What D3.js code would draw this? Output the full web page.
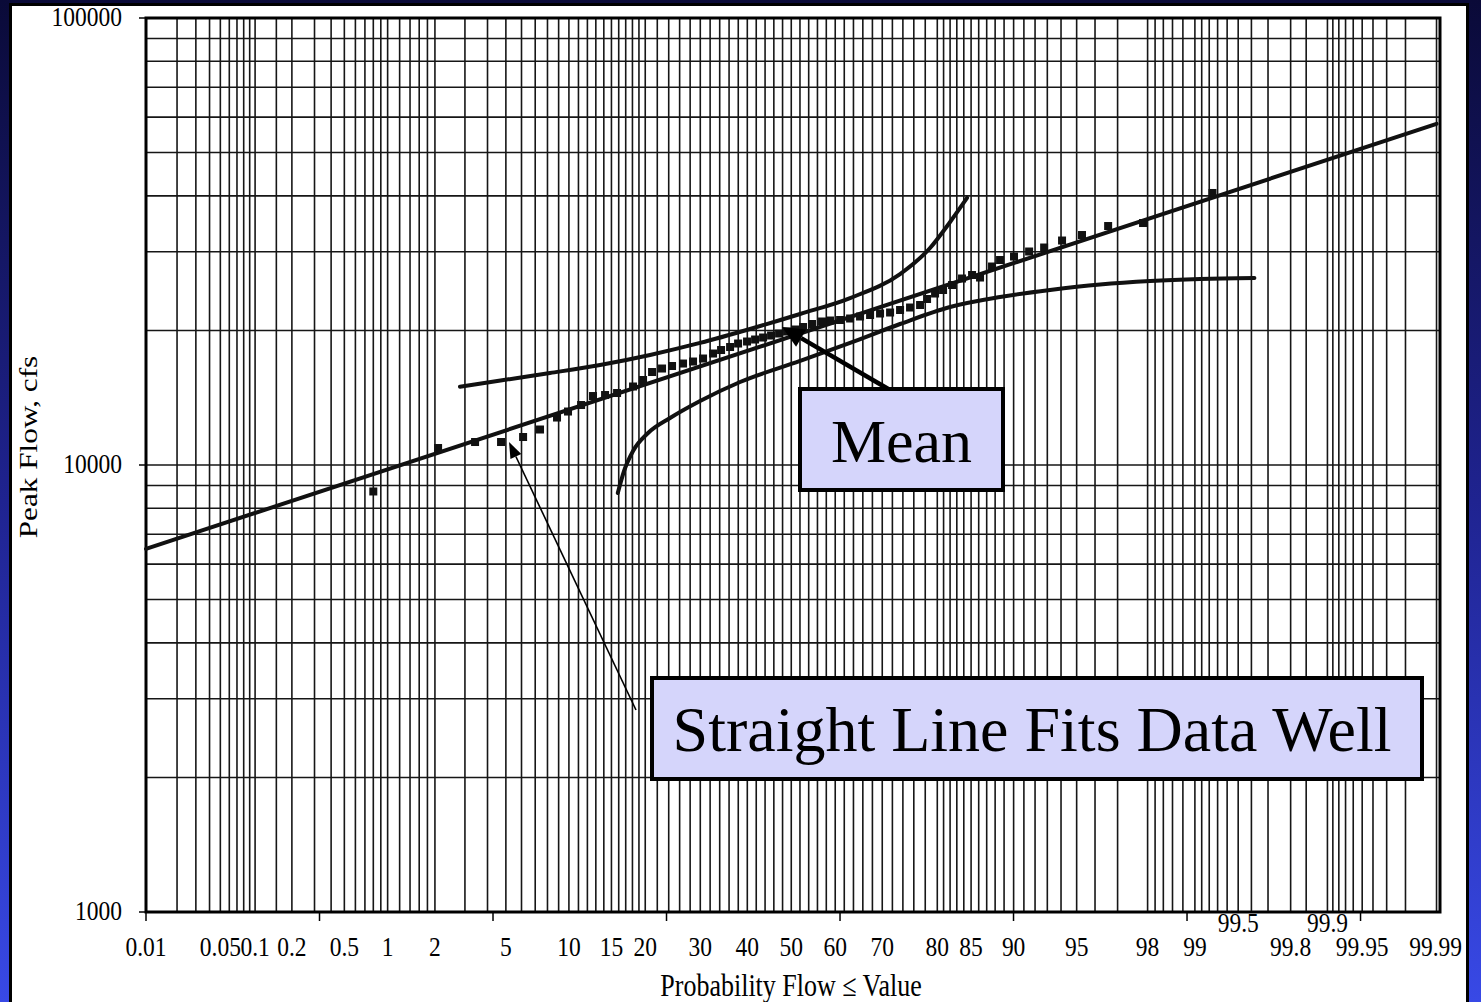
<!DOCTYPE html>
<html>
<head>
<meta charset="utf-8">
<script src="https://cdn.jsdelivr.net/npm/d3@7"></script>
<style>
  html, body { margin: 0; padding: 0; overflow: hidden; background: #0b0b3c; }
  svg { display: block; }
</style>
</head>
<body>
<script>
// ---- Annual peak flows: plotting position (% non-exceedance) and flow (cfs)
const peakProb = [0.80, 2.09, 3.42, 4.72, 6.11, 7.38, 8.85, 9.91, 11.29, 12.66,
  14.16, 15.77, 18.09, 19.65, 21.12, 22.82, 24.60, 26.64, 28.57, 30.56,
  32.61, 34.29, 36.22, 37.96, 39.94, 41.74, 43.55, 45.37, 47.20, 49.03,
  50.87, 52.71, 54.77, 57.04, 58.85, 61.08, 63.27, 65.41, 67.52, 69.56,
  71.55, 73.47, 75.32, 77.11, 78.31, 79.64, 80.92, 82.30, 83.75, 85.13,
  86.17, 87.64, 88.56, 90.04, 91.48, 92.75, 94.07, 95.31, 96.61, 97.87, 99.24];
const peakFlow = [8725, 10914, 11257, 11257, 11551, 12006, 12770, 13171, 13620, 14266,
  14340, 14489, 14983, 15493, 16144, 16438, 16651, 16866, 17041, 17307,
  17758, 18081, 18363, 18697, 18891, 19087, 19284, 19484, 19686, 19890,
  20096, 20356, 20674, 20942, 21050, 21104, 21268, 21488, 21655, 21823,
  21935, 22220, 22507, 22799, 23515, 24191, 24631, 25272, 26134, 26609,
  26268, 27800, 28746, 29269, 30033, 30658, 31783, 32696, 34247, 34781, 40602];

// ---- Fitted log-normal line (end points)
const fitProb = [0.01, 99.99];
const fitFlow = [6490, 57960];

// ---- Confidence limits about the fitted mean
const upperProb = [2.81, 4.69, 8.22, 13.52, 20.79, 29.96, 40.61, 52.02, 63.27, 73.47,
  78.81, 82.00, 84.45];
const upperFlow = [14970, 15452, 16060, 16743, 17630, 18753, 20148, 21770, 23634, 26743,
  30580, 34960, 39570];
const lowerProb = [15.87, 16.76, 18.09, 20.46, 24.24, 29.96, 38.40, 52.02, 63.27, 73.47,
  82.00, 88.56, 93.21, 96.24, 98.07, 99.08, 99.62];
const lowerFlow = [8658, 9696, 10747, 11790, 12737, 13904, 15334, 17089, 18753, 20674,
  22565, 23756, 24631, 25337, 25797, 26065, 26200];

// ---- Probability-paper grid and labels
const gridProbs = [0.01, 0.02, 0.03, 0.04, 0.05, 0.06, 0.07, 0.08, 0.09, 0.1, 0.15, 0.2,
  0.3, 0.4, 0.5, 0.6, 0.7, 0.8, 0.9, 1, 1.2, 1.4, 1.6, 1.8, 2, 3, 4, 5, 6, 7, 8, 9, 10,
  11, 12, 13, 14, 15, 16, 17, 18, 19, 20, 22, 24, 26, 28, 30, 32, 34, 36, 38, 40, 42,
  44, 46, 48, 50, 52, 54, 56, 58, 60, 62, 64, 66, 68, 70, 72, 74, 76, 78, 80, 81, 82,
  83, 84, 85, 86, 87, 88, 89, 90, 91, 92, 93, 94, 95, 96, 97, 98, 98.2, 98.4, 98.6,
  98.8, 99, 99.1, 99.2, 99.3, 99.4, 99.5, 99.6, 99.7, 99.8, 99.85, 99.9, 99.91, 99.92,
  99.93, 99.94, 99.95, 99.96, 99.97, 99.98, 99.99];
const probLabels = ["0.01", "0.05", "0.1", "0.2", "0.5", "1", "2", "5", "10", "15", "20",
  "30", "40", "50", "60", "70", "80", "85", "90", "95", "98", "99", "99.5", "99.8",
  "99.9", "99.95", "99.99"];
const raisedLabels = ["99.5", "99.9"];
const flowGrid = [1000, 2000, 3000, 4000, 5000, 6000, 7000, 8000, 9000,
  10000, 20000, 30000, 40000, 50000, 60000, 70000, 80000, 90000, 100000];
const flowLabels = [1000, 10000, 100000];

// Standard normal quantile (Acklam's rational approximation)
function probit(p) {
  const a = [-3.969683028665376e+01, 2.209460984245205e+02, -2.759285104469687e+02,
    1.383577518672690e+02, -3.066479806614716e+01, 2.506628277459239e+00];
  const b = [-5.447609879822406e+01, 1.615858368580409e+02, -1.556989798598866e+02,
    6.680131188771972e+01, -1.328068155288572e+01];
  const c = [-7.784894002430293e-03, -3.223964580411365e-01, -2.400758277161838e+00,
    -2.549732539343734e+00, 4.374664141464968e+00, 2.938163982698783e+00];
  const d = [7.784695709041462e-03, 3.224671290700398e-01, 2.445134137142996e+00,
    3.754408661907416e+00];
  const pl = 0.02425;
  let q, r;
  if (p < pl) {
    q = Math.sqrt(-2 * Math.log(p));
    return (((((c[0]*q+c[1])*q+c[2])*q+c[3])*q+c[4])*q+c[5]) / ((((d[0]*q+d[1])*q+d[2])*q+d[3])*q+1);
  } else if (p <= 1 - pl) {
    q = p - 0.5; r = q * q;
    return (((((a[0]*r+a[1])*r+a[2])*r+a[3])*r+a[4])*r+a[5])*q / (((((b[0]*r+b[1])*r+b[2])*r+b[3])*r+b[4])*r+1);
  } else {
    q = Math.sqrt(-2 * Math.log(1 - p));
    return -(((((c[0]*q+c[1])*q+c[2])*q+c[3])*q+c[4])*q+c[5]) / ((((d[0]*q+d[1])*q+d[2])*q+d[3])*q+1);
  }
}

const W = 1481, H = 1002;
const plot = { left: 146, right: 1440, top: 18, bottom: 912 };

const zScale = d3.scaleLinear().domain([-3.719, 3.739]).range([plot.left, plot.right]);
const xP = p => zScale(probit(p / 100));
const yQ = d3.scaleLog().domain([1000, 100000]).range([plot.bottom, plot.top]);

const svg = d3.select("body").append("svg").attr("width", W).attr("height", H);
const defs = svg.append("defs");

// slide background
const grad = defs.append("linearGradient").attr("id", "bg")
  .attr("x1", 0).attr("y1", 0).attr("x2", 0).attr("y2", 1);
grad.append("stop").attr("offset", "0%").attr("stop-color", "#0a0a38");
grad.append("stop").attr("offset", "50%").attr("stop-color", "#1f2390");
grad.append("stop").attr("offset", "100%").attr("stop-color", "#3849e6");
svg.append("rect").attr("width", W).attr("height", H).attr("fill", "url(#bg)");

// white chart panel
svg.append("rect").attr("x", 10.5).attr("y", 4.5).attr("width", 1457).attr("height", 1010)
  .attr("fill", "#fff").attr("stroke", "#000").attr("stroke-width", 3);

const serif = "'Liberation Serif', 'Times New Roman', serif";
const stretch = 1.2;

// grid
const grid = svg.append("g").attr("stroke", "#161616").attr("stroke-width", 1.6);
grid.selectAll("line.v").data(gridProbs).join("line")
  .attr("x1", d => xP(d)).attr("x2", d => xP(d))
  .attr("y1", plot.top).attr("y2", plot.bottom);
grid.selectAll("line.h").data(flowGrid).join("line")
  .attr("x1", plot.left).attr("x2", plot.right)
  .attr("y1", d => yQ(d)).attr("y2", d => yQ(d));

// frame
svg.append("rect").attr("x", plot.left).attr("y", plot.top)
  .attr("width", plot.right - plot.left).attr("height", plot.bottom - plot.top)
  .attr("fill", "none").attr("stroke", "#000").attr("stroke-width", 3);

// y axis ticks + labels
const yAx = svg.append("g");
yAx.selectAll("line").data(flowLabels).join("line")
  .attr("x1", plot.left - 7).attr("x2", plot.left)
  .attr("y1", d => yQ(d)).attr("y2", d => yQ(d))
  .attr("stroke", "#000").attr("stroke-width", 1.5);
yAx.selectAll("text").data(flowLabels).join("text")
  .attr("transform", d => `translate(122,${yQ(d) + 8}) scale(1,${stretch})`)
  .attr("text-anchor", "end").attr("font-family", serif).attr("font-size", 23.5)
  .attr("fill", "#000").text(d => d);

// x axis major ticks (unit steps of the normal variate)
const majorZ = d3.range(0, 8).map(k => zScale.domain()[0] + k);
svg.append("g").selectAll("line").data(majorZ).join("line")
  .attr("x1", d => zScale(d)).attr("x2", d => zScale(d))
  .attr("y1", plot.bottom).attr("y2", plot.bottom + 9)
  .attr("stroke", "#000").attr("stroke-width", 1.5);

// x labels (probability)
const xLab = svg.append("g").attr("font-family", serif).attr("font-size", 23.5).attr("fill", "#000");
xLab.selectAll("text").data(probLabels).join("text")
  .attr("text-anchor", "middle")
  .attr("transform", d => {
    const raised = raisedLabels.includes(d);
    return `translate(${xP(+d)},${raised ? 932 : 956}) scale(1,${stretch})`;
  })
  .text(d => d)
  .each(function () {
    // keep the last label inside the panel
    const bb = this.getBBox();
    const m = this.getAttribute("transform").match(/translate\(([^,]+),([^)]+)\)/);
    const cx = +m[1];
    const overflow = cx + bb.width / 2 - 1462;
    if (overflow > 0) {
      this.setAttribute("transform", `translate(${cx - overflow},${m[2]}) scale(1,${stretch})`);
    }
  });

// axis titles
svg.append("text")
  .attr("transform", `translate(791,996) scale(1,${stretch})`)
  .attr("text-anchor", "middle").attr("font-family", serif).attr("font-size", 26)
  .text("Probability Flow \u2264 Value");
svg.append("text")
  .attr("transform", `translate(37,447) scale(1,${stretch}) rotate(-90)`)
  .attr("text-anchor", "middle").attr("font-family", serif).attr("font-size", 26)
  .text("Peak Flow, cfs");

// curves
const lineGen = d3.line().x(d => xP(d[0])).y(d => yQ(d[1]));
const curveGen = d3.line().x(d => xP(d[0])).y(d => yQ(d[1])).curve(d3.curveMonotoneX);
const marks = svg.append("g").attr("fill", "none").attr("stroke", "#111")
  .attr("stroke-width", 4).attr("stroke-linecap", "round").attr("stroke-linejoin", "round");
marks.append("path").attr("d", lineGen(d3.zip(fitProb, fitFlow)));
marks.append("path").attr("d", curveGen(d3.zip(upperProb, upperFlow)));
marks.append("path").attr("d", curveGen(d3.zip(lowerProb, lowerFlow)));

// observed peaks
svg.append("g").attr("fill", "#111").selectAll("rect")
  .data(d3.zip(peakProb, peakFlow)).join("rect")
  .attr("x", d => xP(d[0]) - 4).attr("y", d => yQ(d[1]) - 4)
  .attr("width", 8).attr("height", 8);

// ---- annotations
function arrow(x1, y1, x2, y2, width, headLen, headW) {
  const ang = Math.atan2(y2 - y1, x2 - x1);
  const bx = x2 - headLen * Math.cos(ang), by = y2 - headLen * Math.sin(ang);
  const nx = -Math.sin(ang) * headW / 2, ny = Math.cos(ang) * headW / 2;
  const g = svg.append("g");
  g.append("line").attr("x1", x1).attr("y1", y1).attr("x2", bx).attr("y2", by)
    .attr("stroke", "#000").attr("stroke-width", width);
  g.append("path").attr("d", `M${x2},${y2}L${bx + nx},${by + ny}L${bx - nx},${by - ny}Z`)
    .attr("fill", "#000");
}

// "Straight Line Fits Data Well" pointer
arrow(636, 710, xP(5.19), yQ(11257), 1.6, 16, 12);
// "Mean" pointer
arrow(890, 390, xP(47.9), yQ(20350), 4.5, 22, 20);

const boxFill = "#d5d5fb";
svg.append("rect").attr("x", 800).attr("y", 389).attr("width", 203).attr("height", 101)
  .attr("fill", boxFill).attr("stroke", "#000").attr("stroke-width", 4);
svg.append("text").attr("x", 901.5).attr("y", 462).attr("text-anchor", "middle")
  .attr("font-family", serif).attr("font-size", 62).text("Mean");

svg.append("rect").attr("x", 652).attr("y", 678).attr("width", 770).attr("height", 101)
  .attr("fill", boxFill).attr("stroke", "#000").attr("stroke-width", 4);
svg.append("text").attr("x", 1032).attr("y", 751).attr("text-anchor", "middle")
  .attr("font-family", serif).attr("font-size", 64).text("Straight Line Fits Data Well");
</script>
</body>
</html>
